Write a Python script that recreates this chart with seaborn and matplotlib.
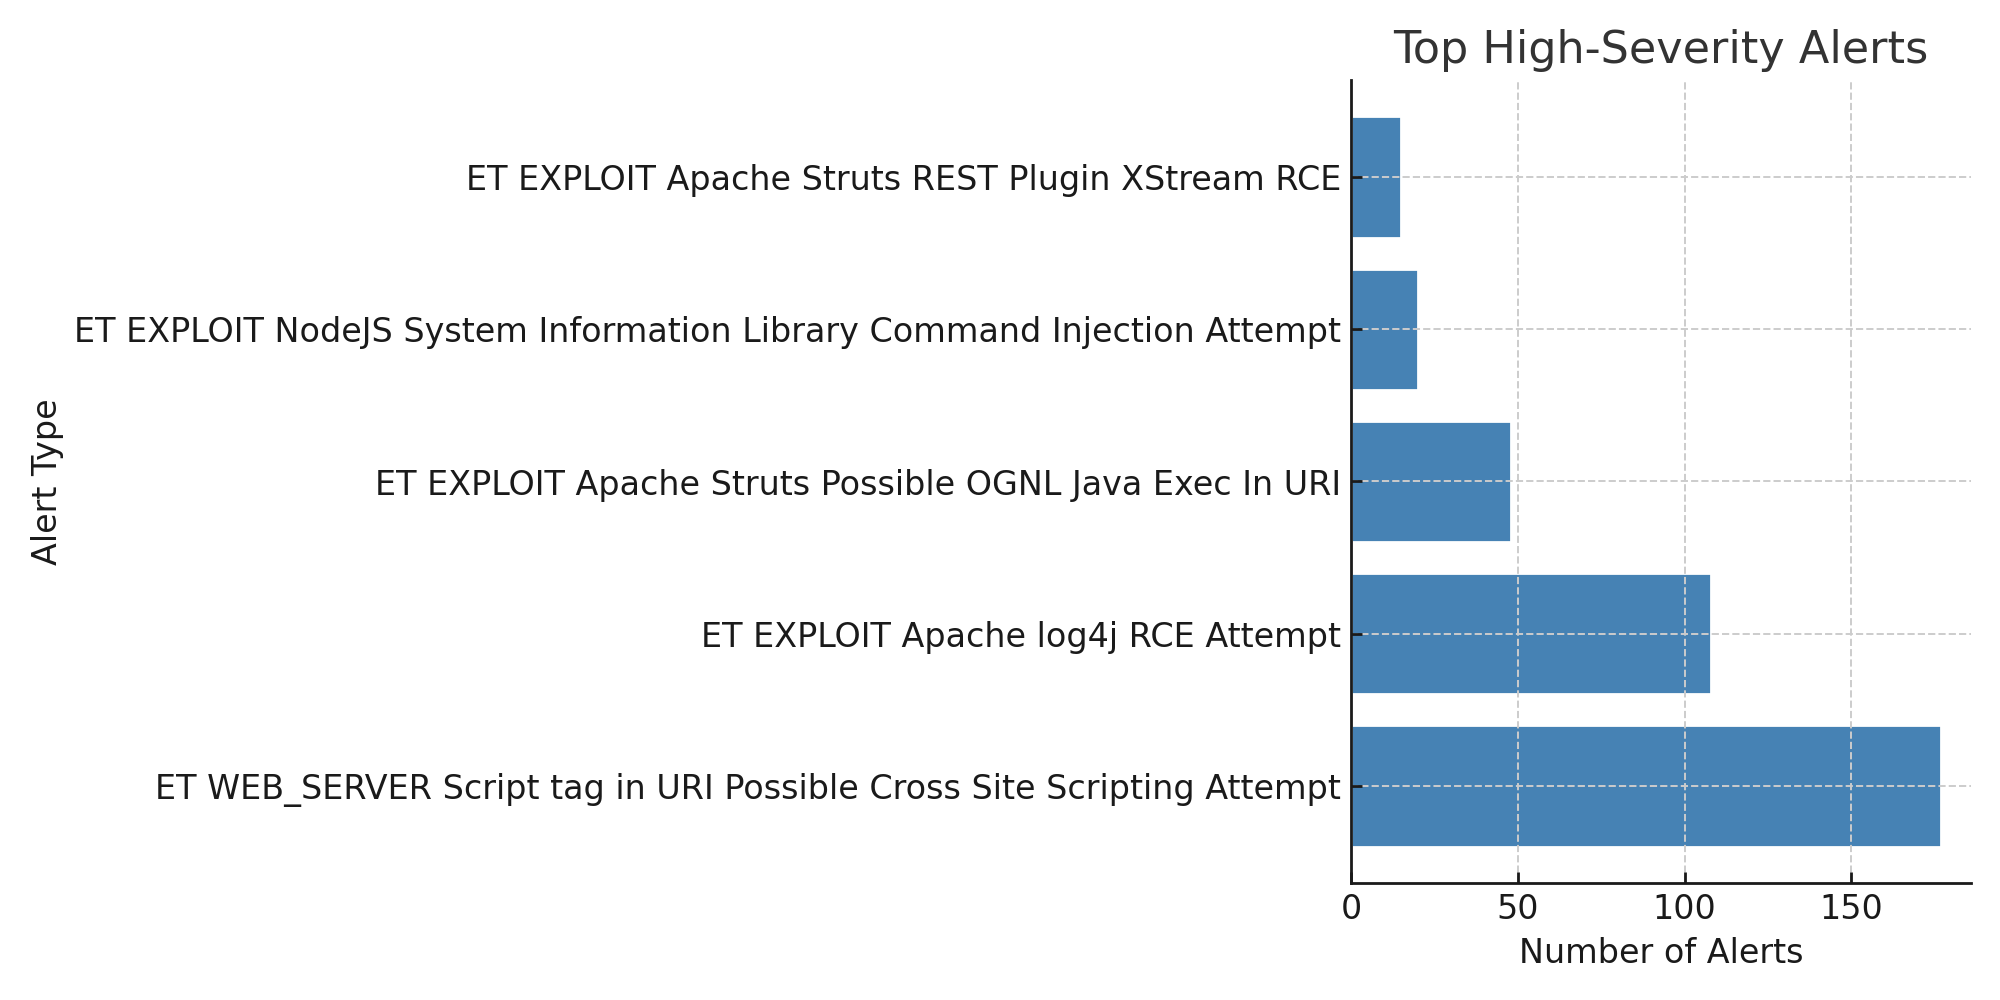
import pandas as pd
import matplotlib
matplotlib.use("Agg")
import matplotlib.pyplot as plt
import seaborn as sns

# alert types, top to bottom as drawn
alert_types = [
    "ET EXPLOIT Apache Struts REST Plugin XStream RCE",
    "ET EXPLOIT NodeJS System Information Library Command Injection Attempt",
    "ET EXPLOIT Apache Struts Possible OGNL Java Exec In URI",
    "ET EXPLOIT Apache log4j RCE Attempt",
    "ET WEB_SERVER Script tag in URI Possible Cross Site Scripting Attempt",
]
alert_counts = [15, 20, 48, 108, 177]
x_ticks = [0, 50, 100, 150]

df = pd.DataFrame({"alert": alert_types, "count": alert_counts})

sns.set_style("ticks")
plt.rcParams["font.family"] = ["DejaVu Sans"]

fig, ax = plt.subplots(figsize=(10, 5), dpi=200)
sns.barplot(data=df, y="alert", x="count", orient="h", color="#4682B4",
            saturation=1, width=0.8, ax=ax)

# matplotlib-like margins around the bars
ax.set_ylim(len(alert_types) - 1 + 0.64, -0.64)
ax.set_xlim(0, max(alert_counts) * 1.05)
ax.set_xticks(x_ticks)

ax.set_title("Top High-Severity Alerts", fontsize=16, color="#333333", pad=6)
ax.set_xlabel("Number of Alerts", fontsize=12, color="#1a1a1a")
ax.set_ylabel("Alert Type", fontsize=12, color="#1a1a1a")
ax.yaxis.set_label_coords(-2.076, 0.5)
ax.tick_params(axis="both", direction="in", length=4, width=1.0,
               labelsize=12, labelcolor="#1a1a1a", color="#1a1a1a")

ax.grid(True, linestyle="--", color="#cccccc", linewidth=0.7)
ax.set_axisbelow("line")
sns.despine(ax=ax)
for s in ["left", "bottom"]:
    ax.spines[s].set_linewidth(1.0)
    ax.spines[s].set_color("#1a1a1a")

fig.subplots_adjust(left=0.6755, right=0.9855, top=0.92, bottom=0.117)
fig.savefig("out.png", dpi=200)
